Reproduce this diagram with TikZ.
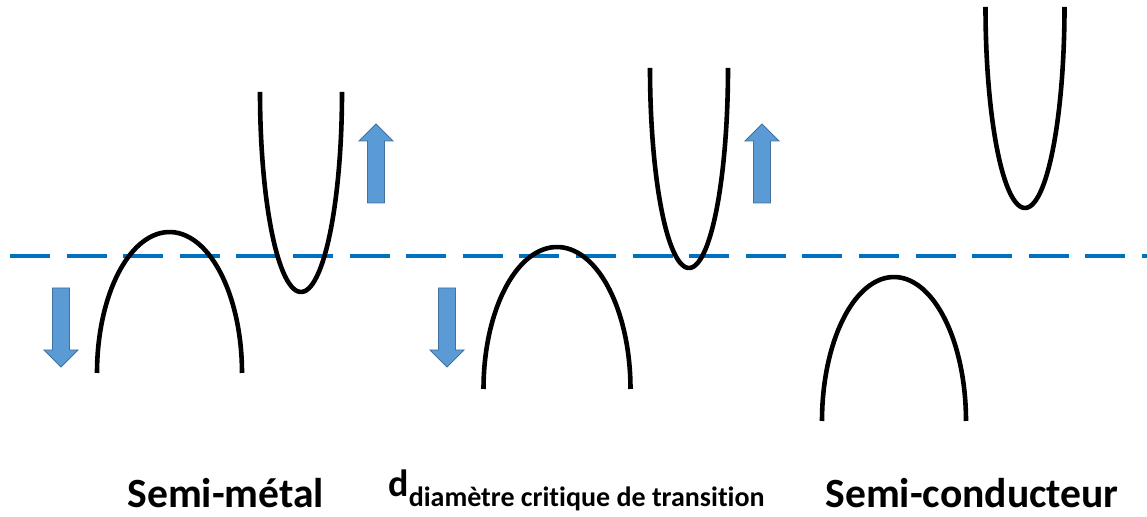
\documentclass[tikz,border=0pt]{standalone}
\usepackage{fontspec}
\setmainfont{Carlito}[Ligatures=NoCommon]
\definecolor{fermi}{HTML}{0070C0}
\definecolor{arrfill}{HTML}{5B9BD5}
\definecolor{arrline}{HTML}{41719C}
\tikzset{
  band/.style={line width=2.3pt, black},
  fermiline/.style={line width=2pt, fermi, dash pattern=on 20pt off 8.3pt},
  shiftarrow/.style={fill=arrfill, draw=arrline, line width=0.4pt},
  caption/.style={font=\fontsize{20.8}{24}\selectfont\bfseries, inner sep=0pt, anchor=base west}
}
\begin{document}
\begin{tikzpicture}[x=0.5pt,y=-0.5pt]
\useasboundingbox (0,0) rectangle (1147,517);
% Fermi level
\coordinate (fL) at (10,256);
\coordinate (fR) at (1147,256);
\draw[fermiline] (fL) -- (fR);
% Semi-metal bands
\draw[band] plot[domain=180:0, samples=60, smooth] ({169.5+72.5*cos(\x)}, {373-141*sin(\x)});
\draw[band] plot[domain=180:0, samples=60, smooth] ({301+41*cos(\x)}, {92+200*sin(\x)});
% Transition bands
\draw[band] plot[domain=180:0, samples=60, smooth] ({557+73.5*cos(\x)}, {389-142*sin(\x)});
\draw[band] plot[domain=180:0, samples=60, smooth] ({689+39*cos(\x)}, {68+200*sin(\x)});
% Semiconductor bands
\draw[band] plot[domain=180:0, samples=60, smooth] ({894+72*cos(\x)}, {421-144*sin(\x)});
\draw[band] plot[domain=180:0, samples=60, smooth] ({1025+39.5*cos(\x)}, {7+201*sin(\x)});
% arrows down
\draw[shiftarrow] (52.5,288) -- (69.5,288) -- (69.5,350) -- (78,350) -- (61,367) -- (44,350) -- (52.5,350) -- cycle;
\draw[shiftarrow] (438.5,288) -- (455.5,288) -- (455.5,350) -- (464,350) -- (447,367) -- (430,350) -- (438.5,350) -- cycle;
% arrows up
\draw[shiftarrow] (367.5,203) -- (384.5,203) -- (384.5,141) -- (393,141) -- (376,124) -- (359,141) -- (367.5,141) -- cycle;
\draw[shiftarrow] (753.5,203) -- (770.5,203) -- (770.5,141) -- (779,141) -- (762,124) -- (745,141) -- (753.5,141) -- cycle;
% labels
\node[caption] (semimetal) at (127,508) {Semi-métal};
\node[caption] (semicond) at (825,508) {Semi-conducteur};
\node[inner sep=0pt, anchor=base west] (dlabel) at (388,497) {\bfseries\fontsize{19}{22}\selectfont d\raisebox{-5pt}{\fontsize{14}{16}\selectfont diamètre critique de transition}};
\end{tikzpicture}
\end{document}
